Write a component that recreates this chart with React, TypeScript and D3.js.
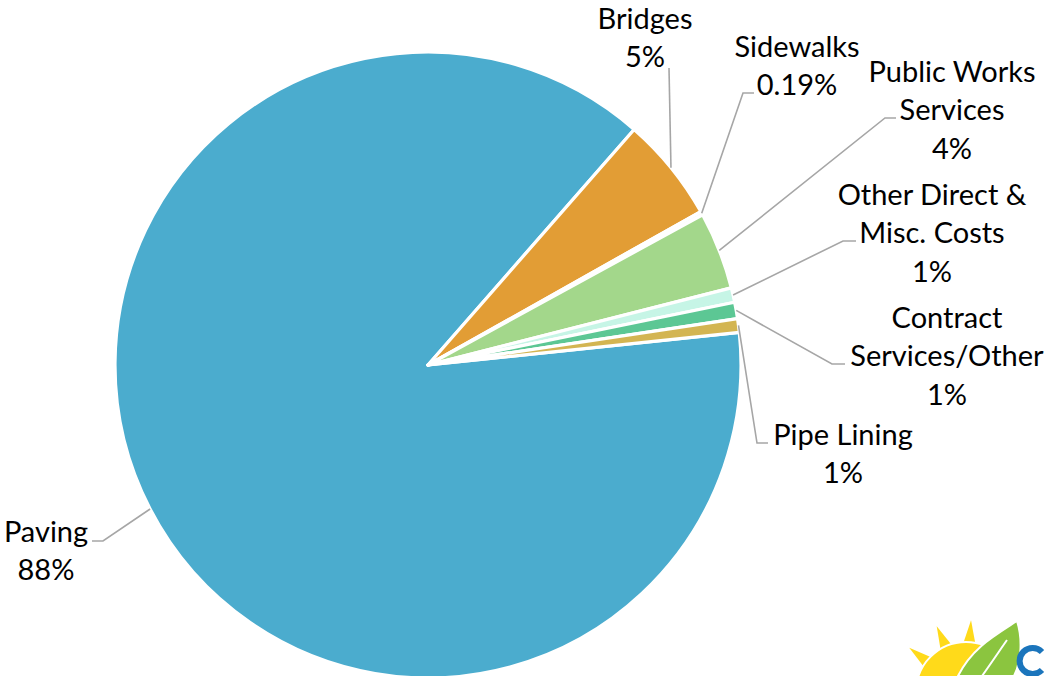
import * as d3 from 'd3';

const categories = [
  'Paving',
  'Bridges',
  'Sidewalks',
  'Public Works Services',
  'Other Direct & Misc. Costs',
  'Contract Services/Other',
  'Pipe Lining',
];
const values = [88.1, 5.4, 0.19, 4.0, 0.75, 0.85, 0.7];
const percentLabels = ['88%', '5%', '0.19%', '4%', '1%', '1%', '1%'];
const colorsList = ['#4BACCE', '#E29D35', '#F4F9FA', '#A3D78B', '#C6F5E6', '#5CC794', '#D3B552'];

// label text wrapped the way the chart shows it
const labelLines = [
  ['Paving'],
  ['Bridges'],
  ['Sidewalks'],
  ['Public Works', 'Services'],
  ['Other Direct &', 'Misc. Costs'],
  ['Contract', 'Services/Other'],
  ['Pipe Lining'],
];

// label placement: text centre x, first line y, leader elbow and end
const labelLayout = [
  { x: 46, y: 530, elbow: [103, 541], end: [92, 541] },
  { x: 645, y: 17, elbow: [669, 68], end: [669, 68] },
  { x: 797, y: 45, elbow: [743, 93], end: [754, 93] },
  { x: 952, y: 70, elbow: [885, 118], end: [896, 118] },
  { x: 932, y: 193, elbow: [843, 241], end: [856, 241] },
  { x: 947, y: 316, elbow: [832, 364], end: [845, 364] },
  { x: 843, y: 433, elbow: [757, 443], end: [768, 443] },
];

const width = 1045;
const height = 676;
const cx = 428;
const cy = 365;
const radius = 313;
const lineH = 38.8;

const App = (): JSX.Element => {
  const pavingShare = values[0] / d3.sum(values);
  const start = (41.2 * Math.PI) / 180 - pavingShare * 2 * Math.PI;

  const pie = d3.pie<number>().sort(null).value(d => d)
    .startAngle(start).endAngle(start + 2 * Math.PI);
  const arcs = pie(values);
  const arc = d3.arc<d3.PieArcDatum<number>>().innerRadius(0).outerRadius(radius);
  const edge = d3.arc<d3.PieArcDatum<number>>().innerRadius(radius).outerRadius(radius);

  return (
    <svg width={width} height={height} style={{ position: 'absolute', left: 0, top: 0, background: '#fff' }}
      fontFamily="Lato, 'Open Sans', sans-serif">
      <g transform={`translate(${cx},${cy})`}>
        {arcs.map((a, i) => (
          <path key={categories[i]} d={arc(a) || ''} fill={colorsList[i]} stroke="#fff" strokeWidth={3.2}
            strokeLinejoin="round" />
        ))}
      </g>
      {arcs.map((a, i) => {
        const [ex, ey] = edge.centroid(a);
        const l = labelLayout[i];
        const pts = [[cx + ex, cy + ey], l.elbow, l.end];
        return (
          <polyline key={'l' + i} points={pts.map(p => p.join(',')).join(' ')} fill="none"
            stroke="#A6A6A6" strokeWidth={1.6} />
        );
      })}
      {labelLines.map((lines, i) => {
        const l = labelLayout[i];
        const all = [...lines, percentLabels[i]];
        return (
          <text key={'t' + i} textAnchor="middle" fontSize={29} fill="#000">
            {all.map((t, j) => (
              <tspan key={j} x={l.x} y={l.y + j * lineH} dominantBaseline="central">{t}</tspan>
            ))}
          </text>
        );
      })}
      {/* logo corner */}
      <g>
        {[-80, -52, -24, 4].map(ang => {
          const r1 = 44;
          const r2 = 72;
          const ox = 966;
          const oy = 692;
          const rad = ((ang - 90) * Math.PI) / 180;
          const w = 0.17;
          return (
            <path key={ang} fill="#FFDA1A"
              d={`M${ox + r1 * Math.cos(rad - w)},${oy + r1 * Math.sin(rad - w)} L${ox + r2 * Math.cos(rad)},${oy + r2 * Math.sin(rad)} L${ox + r1 * Math.cos(rad + w)},${oy + r1 * Math.sin(rad + w)} Z`} />
          );
        })}
        <circle cx={966} cy={692} r={50} fill="#FFDA1A" stroke="#fff" strokeWidth={2} />
        <path d="M958,676 C972,648 994,636 1017,621 C1023,640 1021,662 1014,676 Z" fill="#8BC53F"
          stroke="#fff" strokeWidth={2} />
        <path d="M982,676 C992,662 1000,650 1007,640" stroke="#fff" strokeWidth={2} fill="none" />
        <path d="M1042,652 A13,13 0 1,0 1042,670" stroke="#1B75BC" strokeWidth={6} fill="none" />
      </g>
    </svg>
  );
};

export default App;
